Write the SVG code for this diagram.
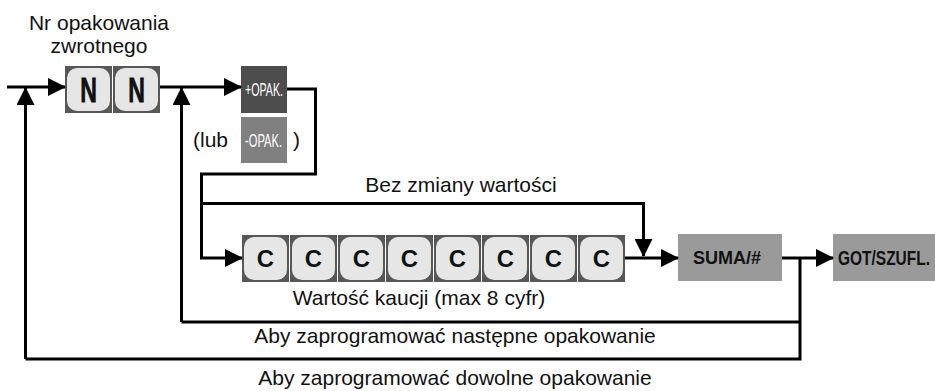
<svg xmlns="http://www.w3.org/2000/svg" width="935" height="391" viewBox="0 0 935 391">
<style>
.lbl{font-family:"Liberation Sans",Arial,sans-serif;font-size:21px;fill:#111;}
.kb{fill:#575757;}
.kf{fill:#e6e6e6;}
.kt{font-family:"Liberation Sans",Arial,sans-serif;font-weight:bold;fill:#111;text-anchor:middle;}
.ln{fill:none;stroke:#000;stroke-width:3;}
.bt{font-family:"Liberation Sans",Arial,sans-serif;font-size:18px;fill:#fff;}
.gt{font-family:"Liberation Sans",Arial,sans-serif;fill:#111;}
</style>
<defs>
<marker id="ah" viewBox="0 0 18 18" refX="17" refY="9" markerWidth="18" markerHeight="18" markerUnits="userSpaceOnUse" orient="auto">
<path d="M0,0 L18,9 L0,18 Z" fill="#000"/>
</marker>
</defs>
<rect width="935" height="391" fill="#fff"/>

<g id="label-nr">
<text class="lbl" x="99" y="30" text-anchor="middle">Nr opakowania</text>
<text class="lbl" x="99" y="53" text-anchor="middle">zwrotnego</text>
</g>

<g id="key-N1">
<rect class="kb" x="65" y="66" width="47" height="47"/>
<rect class="kf" x="67" y="68" width="43" height="43" rx="10"/>
<text class="kt" font-size="35" stroke="#111" stroke-width="0.8" transform="translate(88.5,102) scale(0.66,1)">N</text>
</g>
<g id="key-N2">
<rect class="kb" x="113" y="66" width="47" height="47"/>
<rect class="kf" x="115" y="68" width="43" height="43" rx="10"/>
<text class="kt" font-size="35" stroke="#111" stroke-width="0.8" transform="translate(136.5,102) scale(0.66,1)">N</text>
</g>

<g id="key-plus-opak">
<rect x="241" y="66" width="46" height="47" fill="#4d4d4d"/>
<text class="bt" x="245" y="96" textLength="38" lengthAdjust="spacingAndGlyphs">+OPAK.</text>
</g>
<g id="key-minus-opak">
<text class="lbl" x="193" y="147">(lub</text>
<rect x="241" y="117" width="46" height="46" fill="#808080"/>
<text class="bt" x="245" y="147" textLength="37" lengthAdjust="spacingAndGlyphs">-OPAK.</text>
<text class="lbl" x="293" y="147">)</text>
</g>

<g id="keys-C">
<rect class="kb" x="242" y="235" width="47" height="47"/><rect class="kf" x="244" y="237" width="43" height="43" rx="10"/><text class="kt" font-size="24" x="265.5" y="267">C</text>
<rect class="kb" x="290" y="235" width="47" height="47"/><rect class="kf" x="292" y="237" width="43" height="43" rx="10"/><text class="kt" font-size="24" x="313.5" y="267">C</text>
<rect class="kb" x="338" y="235" width="47" height="47"/><rect class="kf" x="340" y="237" width="43" height="43" rx="10"/><text class="kt" font-size="24" x="361.5" y="267">C</text>
<rect class="kb" x="386" y="235" width="47" height="47"/><rect class="kf" x="388" y="237" width="43" height="43" rx="10"/><text class="kt" font-size="24" x="409.5" y="267">C</text>
<rect class="kb" x="434" y="235" width="47" height="47"/><rect class="kf" x="436" y="237" width="43" height="43" rx="10"/><text class="kt" font-size="24" x="457.5" y="267">C</text>
<rect class="kb" x="482" y="235" width="47" height="47"/><rect class="kf" x="484" y="237" width="43" height="43" rx="10"/><text class="kt" font-size="24" x="505.5" y="267">C</text>
<rect class="kb" x="530" y="235" width="47" height="47"/><rect class="kf" x="532" y="237" width="43" height="43" rx="10"/><text class="kt" font-size="24" x="553.5" y="267">C</text>
<rect class="kb" x="578" y="235" width="47" height="47"/><rect class="kf" x="580" y="237" width="43" height="43" rx="10"/><text class="kt" font-size="24" x="601.5" y="267">C</text>
</g>

<g id="key-suma">
<rect x="678" y="234" width="104" height="47" fill="#9a9a9a"/>
<text class="gt" x="693" y="264" font-size="18" font-weight="bold" textLength="68" lengthAdjust="spacingAndGlyphs">SUMA/#</text>
</g>
<g id="key-got">
<rect x="833" y="234" width="102" height="47" fill="#9a9a9a"/>
<text class="gt" x="838" y="265" font-size="20" font-weight="bold" textLength="92" lengthAdjust="spacingAndGlyphs">GOT/SZUFL.</text>
</g>

<g id="labels">
<text class="lbl" x="461" y="192" text-anchor="middle">Bez zmiany wartości</text>
<text class="lbl" x="419" y="305" text-anchor="middle">Wartość kaucji (max 8 cyfr)</text>
<text class="lbl" x="455" y="343" text-anchor="middle">Aby zaprogramować następne opakowanie</text>
<text class="lbl" x="455" y="385" text-anchor="middle">Aby zaprogramować dowolne opakowanie</text>
</g>

<g id="connectors">
<path class="ln" d="M7,87 L65,87" marker-end="url(#ah)"/>
<path class="ln" d="M25.5,359 L25.5,88" marker-end="url(#ah)"/>
<path class="ln" d="M160,87 L241,87" marker-end="url(#ah)"/>
<path class="ln" d="M181.5,322 L181.5,88" marker-end="url(#ah)"/>
<path class="ln" d="M287,89 L315.5,89 L315.5,174 L201.5,174 L201.5,258 L242,258" marker-end="url(#ah)"/>
<path class="ln" d="M201.5,203.5 L643.5,203.5 L643.5,256" marker-end="url(#ah)"/>
<path class="ln" d="M625,258 L678,258" marker-end="url(#ah)"/>
<path class="ln" d="M782,258 L833,258" marker-end="url(#ah)"/>
<path class="ln" d="M800,258 L800,359 L25.5,359"/>
<path class="ln" d="M800,322 L181.5,322"/>
</g>
</svg>
